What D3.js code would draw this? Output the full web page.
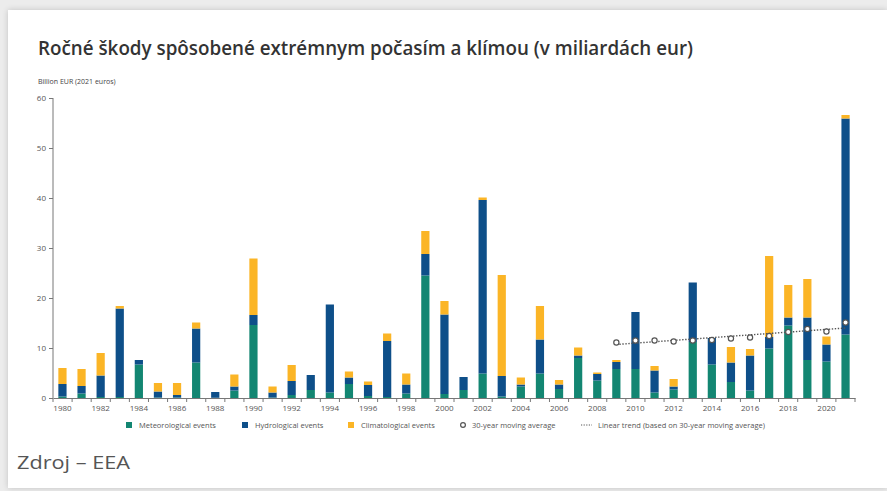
<!DOCTYPE html>
<html>
<head>
<meta charset="utf-8">
<script src="https://cdn.jsdelivr.net/npm/d3@7"></script>
<style>
  html, body { margin: 0; padding: 0; }
  body { width: 887px; height: 491px; background: #ececec; overflow: hidden; font-family: "Open Sans", sans-serif; }
  #card { position: absolute; left: 8px; top: 10px; width: 879px; height: 478px; background: #fff; box-shadow: 0 0 6px rgba(0,0,0,0.18); }
  svg { position: absolute; left: 0; top: 0; }
</style>
</head>
<body>
<div id="card"></div>
<div id="chart"></div>
<script>
// Years on the x axis
const years = d3.range(1980, 2022);

// Losses per event type, billion EUR (2021 euros)
const meteorological = [0.3, 0.9, 0.2, 0.2, 6.7, 0.1, 0.1, 7.1, 0.05, 1.5,
  14.6, 0.1, 0.6, 1.6, 1.1, 2.8, 0.4, 0.2, 0.9, 24.5,
  0.8, 1.6, 4.9, 0.3, 2.3, 4.9, 1.8, 8.0, 3.5, 5.8,
  5.8, 1.1, 1.7, 11.2, 6.7, 3.2, 1.5, 9.9, 14.5, 7.6,
  7.3, 12.7];
const hydrological = [2.5, 1.5, 4.3, 17.7, 0.9, 1.2, 0.5, 6.8, 1.15, 0.8,
  2.0, 1.0, 2.8, 3.0, 17.6, 1.3, 2.2, 11.2, 1.8, 4.3,
  15.9, 2.6, 34.7, 4.1, 0.4, 6.8, 0.9, 0.5, 1.3, 1.4,
  11.4, 4.4, 0.6, 11.9, 5.3, 3.9, 7.0, 2.3, 1.6, 8.5,
  3.4, 43.2];
const climatological = [3.2, 3.4, 4.5, 0.5, 0.0, 1.7, 2.4, 1.2, 0.0, 2.4,
  11.3, 1.2, 3.2, 0.0, 0.0, 1.2, 0.7, 1.5, 2.2, 4.6,
  2.7, 0.0, 0.5, 20.2, 1.4, 6.7, 0.9, 1.6, 0.3, 0.4,
  0.0, 0.9, 1.5, 0.0, 0.0, 3.1, 1.3, 16.2, 6.5, 7.7,
  1.6, 0.7];

// 30-year moving average (2009-2021) and its linear trend
const avgYears = d3.range(2009, 2022);
const movingAvg = [11.1, 11.5, 11.5, 11.3, 11.5, 11.6, 11.9, 12.1, 12.4, 13.2, 13.8, 13.3, 15.1];
const trendEnds = [[2009, 10.7], [2021, 14.0]];

const yTicks = [0, 10, 20, 30, 40, 50, 60];

const keys = ['met', 'hyd', 'cli'];
const colors = { met: '#138672', hyd: '#0e4f89', cli: '#fbb526' };
const legendItems = [
  { type: 'rect', key: 'met', label: 'Meteorological events', x: 126 },
  { type: 'rect', key: 'hyd', label: 'Hydrological events', x: 242 },
  { type: 'rect', key: 'cli', label: 'Climatological events', x: 348 },
  { type: 'circle', label: '30-year moving average', x: 460 },
  { type: 'line', label: 'Linear trend (based on 30-year moving average)', x: 581 }
];

const rows = years.map((y, i) => ({
  year: y, met: meteorological[i], hyd: hydrological[i], cli: climatological[i]
}));

const svg = d3.select('#chart').append('svg')
  .attr('width', 887)
  .attr('height', 491);

// Title
svg.append('text')
  .attr('x', 38)
  .attr('y', 55)
  .attr('fill', '#333')
  .attr('font-size', 20)
  .attr('font-weight', 600)
  .attr('textLength', 655)
  .attr('lengthAdjust', 'spacingAndGlyphs')
  .text('Ročné škody spôsobené extrémnym počasím a klímou (v miliardách eur)');

svg.append('text')
  .attr('x', 38)
  .attr('y', 84)
  .attr('fill', '#444')
  .attr('font-size', 7)
  .text('Billion EUR (2021 euros)');

const x = d3.scaleBand()
  .domain(years)
  .range([53, 855])
  .paddingInner(0.57)
  .paddingOuter(0.28);

const y = d3.scaleLinear()
  .domain([0, 60])
  .range([398, 98]);

const xc = yr => x(yr) + x.bandwidth() / 2;

// Axes
const yAxis = svg.append('g')
  .attr('transform', 'translate(53,0)')
  .call(d3.axisLeft(y).tickValues(yTicks).tickSize(4).tickPadding(3));

const xAxis = svg.append('g')
  .attr('transform', 'translate(0,398)')
  .call(d3.axisBottom(x).tickSize(0).tickPadding(7)
    .tickFormat(d => d % 2 === 0 ? d : ''));

// Ticks at band boundaries on the x axis
xAxis.selectAll('.bound')
  .data(d3.range(years.length + 1))
  .join('line')
  .attr('class', 'bound')
  .attr('x1', i => 53 + i * (802 / years.length))
  .attr('x2', i => 53 + i * (802 / years.length))
  .attr('y1', 0)
  .attr('y2', 4)
  .attr('stroke', '#777');

[yAxis, xAxis].forEach(g => {
  g.select('.domain').attr('stroke', '#777');
  g.selectAll('.tick line').attr('stroke', '#777');
  g.selectAll('text')
    .attr('fill', '#555')
    .attr('font-size', 8)
    .attr('font-family', '"Open Sans", sans-serif');
});
yAxis.select('.domain').attr('d', 'M0,98H0V398');

// Stacked bars
const stack = d3.stack().keys(keys)(rows);
svg.append('g')
  .selectAll('g')
  .data(stack)
  .join('g')
  .attr('fill', d => colors[d.key])
  .selectAll('rect')
  .data(d => d)
  .join('rect')
  .attr('x', d => x(d.data.year))
  .attr('width', x.bandwidth())
  .attr('y', d => y(d[1]))
  .attr('height', d => y(d[0]) - y(d[1]));

// Linear trend
svg.append('line')
  .attr('x1', xc(trendEnds[0][0]))
  .attr('y1', y(trendEnds[0][1]))
  .attr('x2', xc(trendEnds[1][0]))
  .attr('y2', y(trendEnds[1][1]))
  .attr('stroke', '#555')
  .attr('stroke-width', 1.4)
  .attr('stroke-dasharray', '1.4,1.6');

// Moving average markers
svg.append('g')
  .selectAll('circle')
  .data(avgYears)
  .join('circle')
  .attr('cx', d => xc(d))
  .attr('cy', (d, i) => y(movingAvg[i]))
  .attr('r', 2.6)
  .attr('fill', '#fff')
  .attr('stroke', '#555')
  .attr('stroke-width', 1.2);

// Legend
const legend = svg.append('g').attr('transform', 'translate(0,425)');
legendItems.forEach(item => {
  const g = legend.append('g').attr('transform', `translate(${item.x},0)`);
  let textX = 13;
  if (item.type === 'rect') {
    g.append('rect').attr('x', 0).attr('y', -3).attr('width', 6).attr('height', 6)
      .attr('fill', colors[item.key]);
  } else if (item.type === 'circle') {
    g.append('circle').attr('cx', 3).attr('cy', 0).attr('r', 2.4)
      .attr('fill', '#fff').attr('stroke', '#555').attr('stroke-width', 1.2);
    textX = 12;
  } else {
    g.append('line').attr('x1', 0).attr('x2', 11).attr('y1', 0).attr('y2', 0)
      .attr('stroke', '#555').attr('stroke-width', 1).attr('stroke-dasharray', '1.2,1.4');
    textX = 17;
  }
  g.append('text')
    .attr('x', textX)
    .attr('y', 2.6)
    .attr('fill', '#555')
    .attr('font-size', 7.5)
    .text(item.label);
});

// Source
svg.append('text')
  .attr('x', 17)
  .attr('y', 469)
  .attr('fill', '#555')
  .attr('font-size', 19)
  .attr('textLength', 113)
  .attr('lengthAdjust', 'spacingAndGlyphs')
  .text('Zdroj – EEA');
</script>
</body>
</html>
